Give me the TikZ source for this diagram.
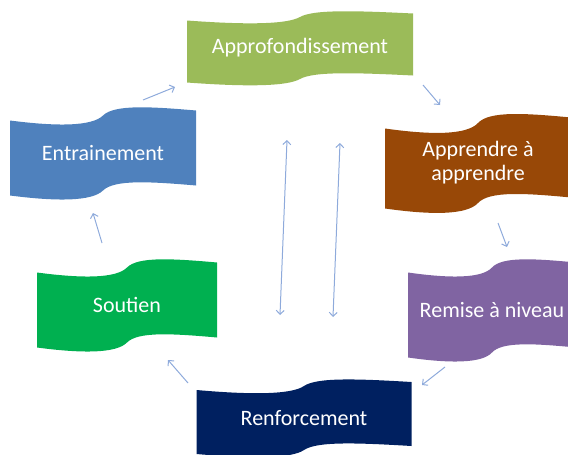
\documentclass[tikz,border=0pt]{standalone}
\usepackage{fontspec}
\setmainfont{Carlito}
\usepackage{tikz}
\usetikzlibrary{arrows.meta}
\usetikzlibrary{calc}
\usepackage{xcolor}
\definecolor{mygreen}{HTML}{9BBB59}
\definecolor{myblue}{HTML}{4F81BD}
\definecolor{mybrown}{HTML}{984807}
\definecolor{mypurple}{HTML}{8064A2}
\definecolor{mygrass}{HTML}{00B050}
\definecolor{mynavy}{HTML}{002060}
\definecolor{myarrow}{HTML}{8EAADB}
\tikzset{x=1pt, y=-1pt, every text node part/.style={align=center, font={\fontsize{22}{24}\selectfont}}}
\tikzstyle{wavetext} = [text=white, inner sep=0pt]
\tikzstyle{ln} = [draw=myarrow, line width=1pt, arrows={-Straight Barb[length=4pt, width=8pt]}]
\tikzstyle{lnn} = [ln, arrows={Straight Barb[length=4pt, width=8pt]-Straight Barb[length=4pt, width=8pt]}]
% wave shaped box: name, centre, width, height, slant, colour, text
\newcommand{\wavebox}[7]{%
  \begin{scope}[shift={#2}]
    \pgfmathsetmacro\wx{#3/2}
    \pgfmathsetmacro\wy{#4/2}
    \pgfmathsetmacro\ws{#5}
    \fill[#6] (-\wx,-\wy+\ws) .. controls (-0.5*\wx,-\wy+2.2*\ws) and (-0.12*\wx,-\wy+2.2*\ws) .. (0,-\wy)
      .. controls (0.12*\wx,-\wy-2.2*\ws) and (0.5*\wx,-\wy-1.8*\ws) .. (\wx,-\wy-\ws)
      -- (\wx,\wy-\ws) .. controls (0.5*\wx,\wy-1.8*\ws) and (0.12*\wx,\wy-2.2*\ws) .. (0,\wy)
      .. controls (-0.12*\wx,\wy+2.2*\ws) and (-0.5*\wx,\wy+2.2*\ws) .. (-\wx,\wy+\ws) -- cycle;
    \node[wavetext] (#1) at (0,0) {#7};
  \end{scope}}

\begin{document}
\begin{tikzpicture}
  \useasboundingbox (0,0) rectangle (568,455);
  \clip (0,0) rectangle (568,455);
  \wavebox{deep}{(300,48)}{226}{62}{3.5}{mygreen}{Approfondissement}
  \wavebox{train}{(103,153)}{186}{75}{5}{myblue}{Entrainement}
  \wavebox{learn}{(478,163)}{186}{80}{5.5}{mybrown}{Apprendre à\\apprendre}
  \wavebox{remise}{(492,310)}{168}{85}{5}{mypurple}{Remise à niveau}
  \wavebox{soutien}{(127,305)}{180}{75}{5}{mygrass}{Soutien}
  \wavebox{renfo}{(304,418)}{215}{64}{4}{mynavy}{Renforcement}
  % arrow ends
  \coordinate (a1) at (143,100);
  \coordinate (b1) at (175,87);
  \coordinate (a2) at (423,85);
  \coordinate (b2) at (440,105);
  \coordinate (a3) at (498,223);
  \coordinate (b3) at (507,247);
  \coordinate (a4) at (445,367);
  \coordinate (b4) at (422,385);
  \coordinate (a5) at (188,383);
  \coordinate (b5) at (168,360);
  \coordinate (a6) at (102,243);
  \coordinate (b6) at (93,213);
  \coordinate (up1) at (287,140);
  \coordinate (dn1) at (280,315);
  \coordinate (up2) at (340,143);
  \coordinate (dn2) at (333,317);
  \draw[ln] (a1) -- (b1);
  \draw[ln] (a2) -- (b2);
  \draw[ln] (a3) -- (b3);
  \draw[ln] (a4) -- (b4);
  \draw[ln] (a5) -- (b5);
  \draw[ln] (a6) -- (b6);
  \draw[lnn] (dn1) -- (up1);
  \draw[lnn] (dn2) -- (up2);
\end{tikzpicture}
\end{document}
